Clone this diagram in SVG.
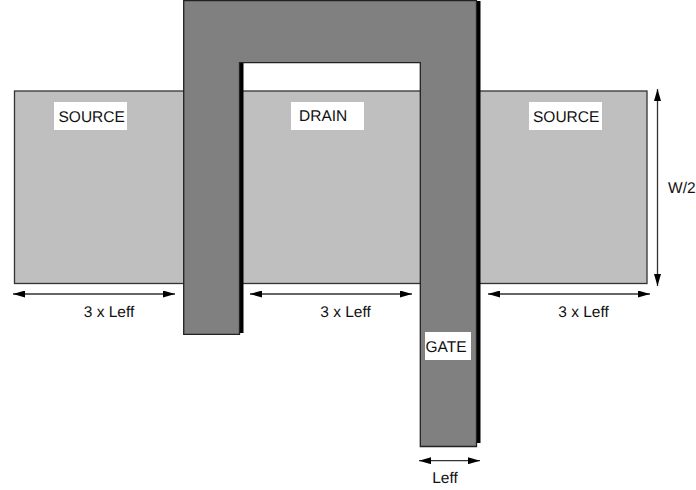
<svg xmlns="http://www.w3.org/2000/svg" width="696" height="490" viewBox="0 0 696 490">
<defs>
<marker id="ah" markerUnits="userSpaceOnUse" markerWidth="14" markerHeight="7" refX="12" refY="3.5" orient="auto-start-reverse"><path d="M0 0L12 3.5L0 7Z" fill="#000"/></marker>
</defs>
<style>
text{font-family:"Liberation Sans",Arial,sans-serif;font-size:15.5px;fill:#111;text-rendering:geometricPrecision}
.m{text-anchor:middle}
.src{fill:#bfbfbf;stroke:#333;stroke-width:1.3}
.gate{fill:#808080;stroke:#222;stroke-width:1.3}
.lab{fill:#fff}
.dim{fill:none;stroke:#333;stroke-width:1.3;marker-start:url(#ah);marker-end:url(#ah)}
</style>
<rect width="696" height="490" fill="#fff"/>
<g id="diffusion"><rect class="src" x="14.5" y="91" width="632.5" height="192.5"/></g>
<g id="gate">
<path fill="#000" d="M184 1H480.5V443H476V1ZM239 62H243.5V333H239Z"/>
<path class="gate" d="M183.7 0.7H476.5V446.5H420.3V62.7H239.5V334.3H183.7Z"/>
</g>
<g id="source-left"><rect class="lab" x="54" y="102" width="73" height="28"/><text x="58.5" y="122">SOURCE</text></g>
<g id="drain"><rect class="lab" x="291" y="102" width="73" height="28"/><text x="299" y="121">DRAIN</text></g>
<g id="source-right"><rect class="lab" x="529" y="102" width="73" height="28"/><text x="533" y="122">SOURCE</text></g>
<g id="gate-label"><rect class="lab" x="425" y="332" width="46" height="28"/><text x="425.5" y="352">GATE</text></g>
<g id="connectors">
<line class="dim" x1="13" y1="294" x2="175" y2="294"/>
<line class="dim" x1="250" y1="294" x2="412" y2="294"/>
<line class="dim" x1="488" y1="294" x2="650" y2="294"/>
<line class="dim" x1="657.5" y1="89" x2="657.5" y2="286"/>
<line class="dim" x1="419" y1="460.7" x2="480" y2="460.7"/>
</g>
<g id="dimension-labels">
<text class="m" x="109" y="316.5">3 x Leff</text>
<text class="m" x="345.5" y="316.5">3 x Leff</text>
<text class="m" x="583.5" y="316.5">3 x Leff</text>
<text x="668" y="192.5">W/2</text>
<text class="m" x="445" y="483">Leff</text>
</g>
</svg>
